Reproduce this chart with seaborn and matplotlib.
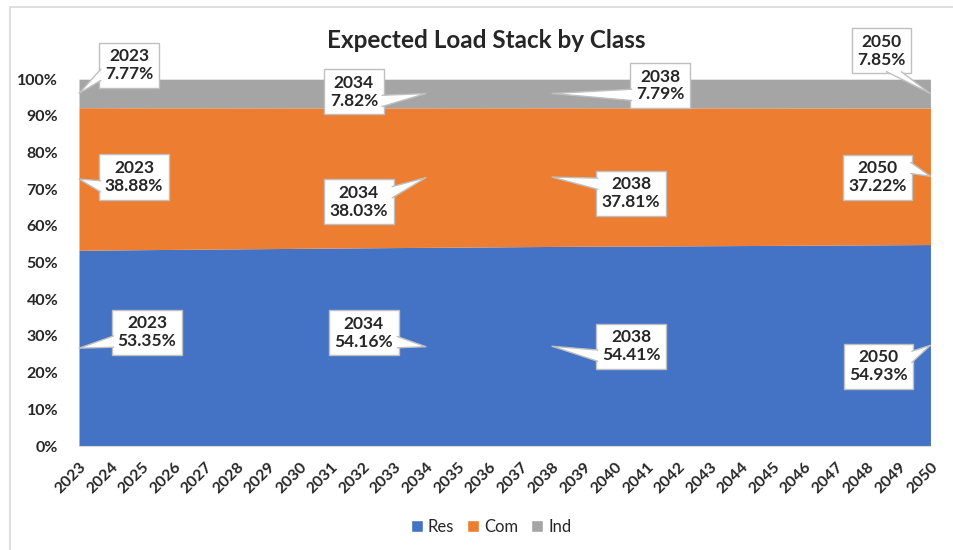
import numpy as np
import seaborn as sns
import matplotlib.pyplot as plt
from matplotlib.patches import Rectangle, Polygon
from matplotlib.lines import Line2D
from matplotlib.ticker import PercentFormatter

sns.set_style("white")
plt.rcParams['font.family'] = ['Lato', 'DejaVu Sans']

# ---------- Data (share of load, %) ----------
years = list(range(2023, 2051))
res = [53.35, 53.45, 53.53, 53.60, 53.68, 53.75, 53.82, 53.89, 53.96, 54.03,
       54.10, 54.16, 54.22, 54.28, 54.35, 54.41, 54.45, 54.49, 54.53, 54.57,
       54.61, 54.65, 54.70, 54.74, 54.79, 54.83, 54.88, 54.93]
com = [38.88, 38.77, 38.67, 38.59, 38.52, 38.43, 38.37, 38.28, 38.22, 38.16,
       38.08, 38.03, 37.97, 37.92, 37.85, 37.81, 37.75, 37.70, 37.66, 37.61,
       37.57, 37.52, 37.47, 37.42, 37.37, 37.32, 37.27, 37.22]
ind = [7.77, 7.78, 7.80, 7.81, 7.80, 7.82, 7.81, 7.83, 7.82, 7.81,
       7.82, 7.82, 7.81, 7.80, 7.80, 7.79, 7.80, 7.81, 7.81, 7.82,
       7.82, 7.83, 7.83, 7.84, 7.84, 7.85, 7.85, 7.85]
series_names = ["Res", "Com", "Ind"]
colors = ["#4472C4", "#ED7D31", "#A5A5A5"]

# callout years and box-centre offsets (pixels, from the pointed-at point)
label_years = [2023, 2034, 2038, 2050]
offsets = {
    "Res": [(68, 16), (-62, 14), (79, 0), (-52, -21)],
    "Com": [(55, 2), (-67, -24), (79, -16), (-53, -1)],
    "Ind": [(50, 28), (-72, 2), (108, 8), (-49, 43)],
}
BOX_EDGE = '#BFBFBF'

# ---------- Normalise to 100% ----------
data = np.array([res, com, ind], dtype=float)
pct = data / data.sum(axis=0) * 100
x = np.arange(len(years))

fig = plt.figure(figsize=(9.54, 5.5), dpi=100)
ax = fig.add_axes([0.0828, 0.189, 0.8925, 0.667])
ax.stackplot(x, pct, colors=colors, labels=series_names, linewidth=0)

ax.set_xlim(0, len(years) - 1)
ax.set_ylim(0, 100)
ax.set_yticks(np.arange(0, 101, 10))
ax.yaxis.set_major_formatter(PercentFormatter(decimals=0))
ax.set_xticks(x)
ax.set_xticklabels(years, rotation=45, ha='right', rotation_mode='anchor')
for lbl in ax.get_xticklabels() + ax.get_yticklabels():
    lbl.set_fontweight('bold')
    lbl.set_fontsize(11.5)
ax.tick_params(axis='x', length=5, color='#D9D9D9', pad=5)
ax.tick_params(axis='y', length=0, pad=15)
for s in ['top', 'right', 'left']:
    ax.spines[s].set_visible(False)
ax.spines['bottom'].set_color('#D9D9D9')

fig.text(0.51, 0.927, "Expected Load Stack by Class", ha='center', va='center',
         fontsize=17.5, fontweight='bold')

# ---------- Callout boxes ----------
cum = np.vstack([np.zeros(len(years)), np.cumsum(pct, axis=0)])
callouts = []
for i, name in enumerate(series_names):
    for j, yr in enumerate(label_years):
        k = years.index(yr)
        mid = (cum[i, k] + cum[i + 1, k]) / 2
        dx, dy = offsets[name][j]
        t = ax.annotate(f"{yr}\n{data[i, k]:.2f}%", xy=(k, mid),
                        xytext=(dx, dy), textcoords='offset pixels',
                        ha='center', va='center', fontsize=12.5, fontweight='bold',
                        linespacing=1.15, zorder=5,
                        bbox=dict(boxstyle='square,pad=0.32', fc='white', ec=BOX_EDGE, lw=1),
                        annotation_clip=False)
        callouts.append((t, (k, mid)))

# wedge pointers, Excel style (base on the box edge, tip at the point)
fig.canvas.draw()
to_fig = fig.transFigure.inverted()
for t, xy in callouts:
    bb = t.get_bbox_patch().get_window_extent()
    x0, y0, x1, y1 = bb.x0, bb.y0, bb.x1, bb.y1
    w, h = x1 - x0, y1 - y0
    cx, cy = (x0 + x1) / 2, (y0 + y1) / 2
    tx, ty = ax.transData.transform(xy)
    ddx, ddy = tx - cx, ty - cy
    if abs(ddx) / w >= abs(ddy) / h:
        xe = x1 - 1.5 if ddx > 0 else x0 + 1.5
        fr = (2, 5) if ddy > 0 else (7, 10)
        b1, b2 = (xe, y1 - h * fr[0] / 12), (xe, y1 - h * fr[1] / 12)
    else:
        ye = y1 - 1.5 if ddy > 0 else y0 + 1.5
        fr = (2, 5) if ddx < 0 else (7, 10)
        b1, b2 = (x0 + w * fr[0] / 12, ye), (x0 + w * fr[1] / 12, ye)
    pts = to_fig.transform([b1, (tx, ty), b2])
    fig.add_artist(Polygon(pts, closed=True, fc='white', ec='none',
                           transform=fig.transFigure, zorder=6))
    fig.add_artist(Line2D(pts[:, 0], pts[:, 1], color=BOX_EDGE, lw=1,
                          transform=fig.transFigure, zorder=7))

# ---------- Legend ----------
handles = [plt.Line2D([0], [0], marker='s', color='w', markerfacecolor=c,
                      markersize=9, label=n) for n, c in zip(series_names, colors)]
fig.legend(handles=handles, loc='center', bbox_to_anchor=(0.515, 0.042), ncol=3,
           frameon=False, fontsize=12, handlelength=0.7, handletextpad=0.3,
           columnspacing=0.8)

# outer chart border
fig.add_artist(Rectangle((10 / 954, -0.05), 1.0, 1.05 - 7 / 550, transform=fig.transFigure,
                         fill=False, ec='#D9D9D9', lw=1.2))

fig.savefig("out.png", dpi=100)
